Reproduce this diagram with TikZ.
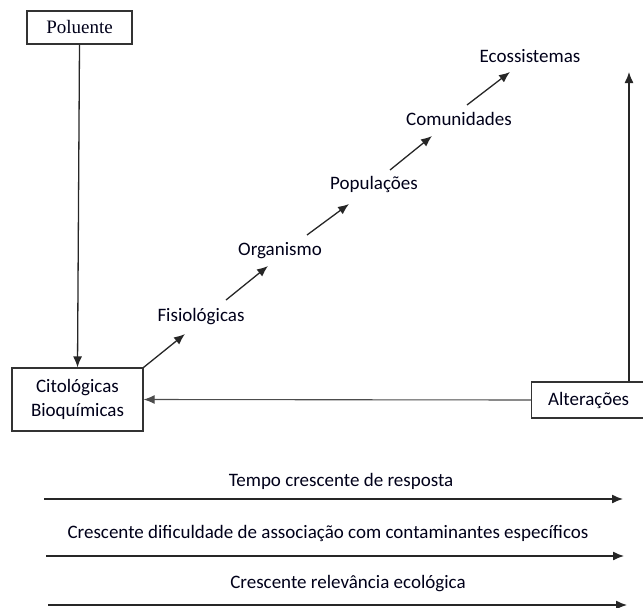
\documentclass[tikz,border=0pt]{standalone}
\usepackage{fontspec}
\setmainfont{Carlito}
\newfontfamily\timesf{Liberation Serif}
\usetikzlibrary{arrows.meta}
\begin{document}
\begin{tikzpicture}[x=1pt,y=-1pt,
  every node/.style={font=\fontsize{19}{22}\selectfont, text=black!90!blue},
  box/.style={draw=black!80, line width=1.2pt, inner sep=0pt},
  lbl/.style={inner sep=0pt},
  arr/.style={draw=black!85, line width=1.3pt, -{Latex[length=11pt,width=9pt]}},
  thinarr/.style={draw=black!70, line width=1.1pt, -{Latex[length=11pt,width=9pt]}}]
\useasboundingbox (0,0) rectangle (643,608);
\clip (0,0) rectangle (643,608);
% boxes
\node[box, minimum width=105pt, minimum height=33pt, font=\timesf\fontsize{19}{22}\selectfont] (pol) at (79.5,27.5) {Poluente};
\node[box, minimum width=131pt, minimum height=63pt, align=center, font=\fontsize{19}{24}\selectfont] (cit) at (77.5,399.5) {Citológicas\\Bioquímicas};
\node[box, minimum width=125pt, minimum height=36pt, anchor=west] (alt) at (531,400) {\hspace*{-11pt}Alterações};
% level labels
\node[lbl] (fis) at (201,317) {Fisiológicas};
\node[lbl] (org) at (280,251) {Organismo};
\node[lbl] (pop) at (374,184) {Populações};
\node[lbl] (com) at (459,119) {Comunidades};
\node[lbl] (eco) at (530,56) {Ecossistemas};
% coordinates for arrow ends
\coordinate (a1e) at (185,334);
\coordinate (a2s) at (226,300); \coordinate (a2e) at (268,266);
\coordinate (a3s) at (307,235); \coordinate (a3e) at (349,204);
\coordinate (a4s) at (390,170); \coordinate (a4e) at (432,136);
\coordinate (a5s) at (467,105); \coordinate (a5e) at (510,72);
\coordinate (vtop) at (629,72);
% connectors
\draw[arr] (pol.south) -- (cit.north);
\draw[arr] (cit.north east) -- (a1e);
\draw[arr] (a2s) -- (a2e);
\draw[arr] (a3s) -- (a3e);
\draw[arr] (a4s) -- (a4e);
\draw[arr] (a5s) -- (a5e);
\draw[thinarr] (alt.west) -- (cit.east);
\draw[arr] (alt.north -| vtop) -- (vtop);
% bottom scales
\coordinate (b1s) at (44,499); \coordinate (b1e) at (623,499);
\coordinate (b2s) at (46,556); \coordinate (b2e) at (624,556);
\coordinate (b3s) at (48,605); \coordinate (b3e) at (627,605);
\draw[arr] (b1s) -- (b1e);
\draw[arr] (b2s) -- (b2e);
\draw[arr] (b3s) -- (b3e);
\node[lbl] (t1) at (341,481) {Tempo crescente de resposta};
\node[lbl] (t2) at (328,533) {Crescente dificuldade de associação com contaminantes específicos};
\node[lbl] (t3) at (348,584) {Crescente relevância ecológica};
\end{tikzpicture}
\end{document}
